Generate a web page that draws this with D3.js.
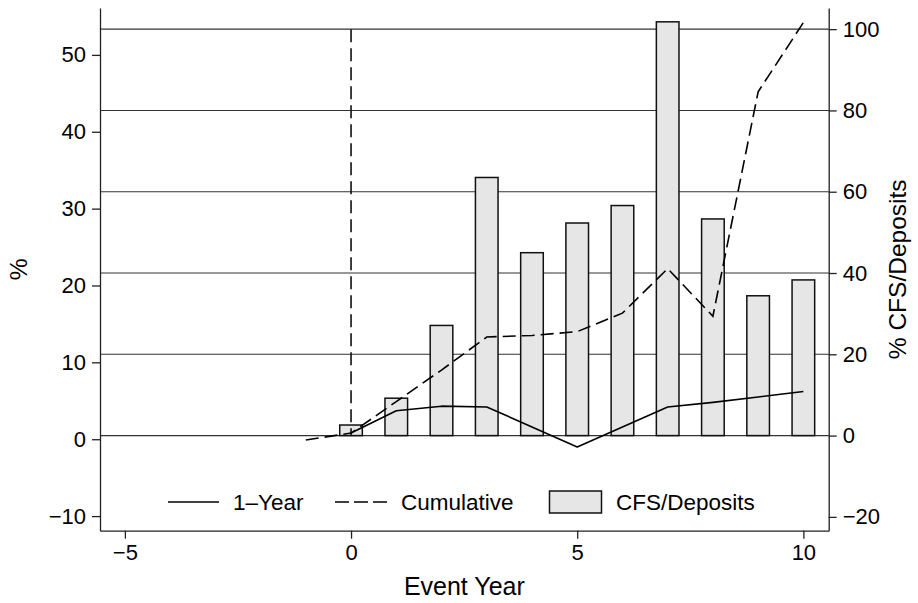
<!DOCTYPE html>
<html>
<head>
<meta charset="utf-8">
<script src="https://cdn.jsdelivr.net/npm/d3@7"></script>
<style>
  html, body { margin: 0; padding: 0; background: #fff; }
  svg { display: block; font-family: "Liberation Sans", Arial, Helvetica, sans-serif; }
</style>
</head>
<body>
<svg id="chart" width="918" height="603"></svg>
<script>
// ---- Data ----
const barYears = [0, 1, 2, 3, 4, 5, 6, 7, 8, 9, 10];
const cfsDeposits = [2.6, 9.2, 27.1, 63.5, 45.0, 52.3, 56.6, 101.8, 53.3, 34.4, 38.3];

const oneYearYears = [0, 1, 2, 3, 4, 5, 6, 7, 8, 9, 10];
const oneYear = [0.8, 3.7, 4.3, 4.2, 1.6, -1.0, 1.6, 4.2, 4.8, 5.5, 6.2];

const cumYears = [-1, 0, 1, 2, 3, 4, 5, 6, 7, 8, 9, 10];
const cumulative = [-0.1, 0.8, 4.9, 9.0, 13.3, 13.5, 14.0, 16.4, 22.2, 16.0, 45.2, 54.2];

const eventLineYear = 0;
const eventLineRange = [0, 100];

const xTicks = [-5, 0, 5, 10];
const yLeftTicks = [-10, 0, 10, 20, 30, 40, 50];
const yRightTicks = [-20, 0, 20, 40, 60, 80, 100];
const gridTicks = [0, 20, 40, 60, 80, 100];

const legendLabels = ["1\u2013Year", "Cumulative", "CFS/Deposits"];
const xTitle = "Event Year";
const yLeftTitle = "%";
const yRightTitle = "% CFS/Deposits";

// ---- Layout ----
const L = 100, R = 828.7, T = 8, B = 530.7;
const svg = d3.select("#chart");

const x = d3.scaleLinear().domain([-5.55, 10.56]).range([L, R]);
const yL = d3.scaleLinear().domain([-11.9, 56.1]).range([B, T]);
const yR = d3.scaleLinear().domain([-23.4, 105.2]).range([B, T]);

const fmt = d => (d < 0 ? "\u2212" + Math.abs(d) : String(d));

// gridlines (right axis)
svg.append("g").selectAll("line").data(gridTicks).join("line")
  .attr("x1", L).attr("x2", R)
  .attr("y1", d => yR(d)).attr("y2", d => yR(d))
  .attr("stroke", "#333").attr("stroke-width", 1.1);

// bars
const barW = x(0.5) - x(0);
svg.append("g").selectAll("rect").data(barYears).join("rect")
  .attr("x", (d) => x(d) - barW / 2)
  .attr("width", barW)
  .attr("y", (d, i) => yR(Math.max(0, cfsDeposits[i])))
  .attr("height", (d, i) => Math.abs(yR(cfsDeposits[i]) - yR(0)))
  .attr("fill", "#e6e6e6").attr("stroke", "#111").attr("stroke-width", 1.5);

// vertical event line
svg.append("line")
  .attr("x1", x(eventLineYear)).attr("x2", x(eventLineYear))
  .attr("y1", yR(eventLineRange[1])).attr("y2", yR(eventLineRange[0]))
  .attr("stroke", "#111").attr("stroke-width", 1.6).attr("stroke-dasharray", "13,6");

// lines
const lineGen = d3.line().x(d => x(d[0])).y(d => yL(d[1]));
svg.append("path")
  .datum(oneYearYears.map((d, i) => [d, oneYear[i]]))
  .attr("d", lineGen).attr("fill", "none")
  .attr("stroke", "#000").attr("stroke-width", 1.6).attr("stroke-linejoin", "round");
svg.append("path")
  .datum(cumYears.map((d, i) => [d, cumulative[i]]))
  .attr("d", lineGen).attr("fill", "none")
  .attr("stroke", "#000").attr("stroke-width", 1.6).attr("stroke-dasharray", "13,6");

// axes
const axisStyle = g => {
  g.selectAll("path.domain").attr("stroke", "#222").attr("stroke-width", 1.3);
  g.selectAll(".tick line").attr("stroke", "#222").attr("stroke-width", 1.3);
  g.selectAll(".tick text").attr("fill", "#000").attr("font-size", 22)
    .attr("font-family", "'Liberation Sans', Arial, sans-serif");
};
svg.append("g").attr("transform", `translate(${L},0)`)
  .call(d3.axisLeft(yL).tickValues(yLeftTicks).tickFormat(fmt).tickSize(8).tickSizeOuter(0).tickPadding(6))
  .call(axisStyle);
svg.append("g").attr("transform", `translate(${R},0)`)
  .call(d3.axisRight(yR).tickValues(yRightTicks).tickFormat(fmt).tickSize(8).tickSizeOuter(0).tickPadding(6))
  .call(axisStyle);
svg.append("g").attr("transform", `translate(0,${B})`)
  .call(d3.axisBottom(x).tickValues(xTicks).tickFormat(fmt).tickSize(8).tickSizeOuter(0).tickPadding(6))
  .call(axisStyle);

// titles
svg.append("text").attr("x", (L + R) / 2).attr("y", 595)
  .attr("text-anchor", "middle").attr("font-size", 25).text(xTitle);
svg.append("text").attr("transform", `translate(27,${(T + B) / 2}) rotate(-90)`)
  .attr("text-anchor", "middle").attr("font-size", 24.5).text(yLeftTitle);
svg.append("text").attr("transform", `translate(906,${(T + B) / 2}) rotate(-90)`)
  .attr("text-anchor", "middle").attr("font-size", 24.5).text(yRightTitle);

// legend
const legY = 502;
const lg = svg.append("g").attr("font-size", 22.5);
lg.append("line").attr("x1", 168).attr("x2", 219).attr("y1", legY).attr("y2", legY)
  .attr("stroke", "#000").attr("stroke-width", 1.6);
lg.append("text").attr("x", 233).attr("y", legY + 8).text(legendLabels[0]);
lg.append("line").attr("x1", 335).attr("x2", 387).attr("y1", legY).attr("y2", legY)
  .attr("stroke", "#000").attr("stroke-width", 1.6).attr("stroke-dasharray", "14,5");
lg.append("text").attr("x", 401).attr("y", legY + 8).text(legendLabels[1]);
lg.append("rect").attr("x", 549.5).attr("y", 491).attr("width", 52).attr("height", 22)
  .attr("fill", "#e6e6e6").attr("stroke", "#111").attr("stroke-width", 1.5);
lg.append("text").attr("x", 616).attr("y", legY + 8).text(legendLabels[2]);
</script>
</body>
</html>
